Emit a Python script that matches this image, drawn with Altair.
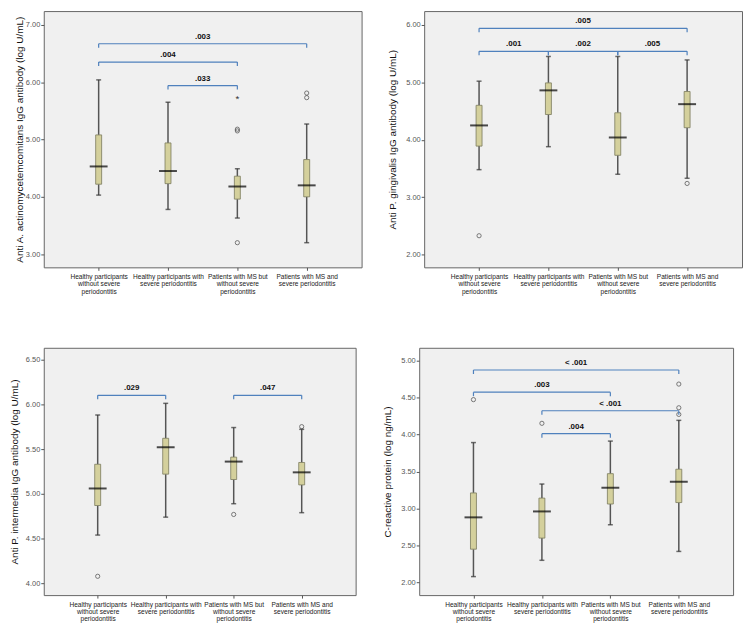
import altair as alt
import pandas as pd

FONT = "Liberation Sans"

CATEGORY_LABELS = [
    "Healthy participants|without severe|periodontitis",
    "Healthy participants with|severe periodontitis",
    "Patients with MS but|without severe|periodontitis",
    "Patients with MS and|severe periodontitis",
]
GROUP_POS = [0, 1, 2, 3]

# ---- Panel A: A. actinomycetemcomitans ----
A_LOW = [4.03, 3.78, 3.63, 3.20]
A_Q1 = [4.22, 4.23, 3.96, 4.00]
A_MED = [4.53, 4.45, 4.18, 4.20]
A_Q3 = [5.08, 4.94, 4.36, 4.65]
A_HIGH = [6.04, 5.65, 4.49, 5.27]
A_OUT_GROUP = [2, 2, 2, 3, 3]
A_OUT_VALUE = [3.20, 5.15, 5.18, 5.73, 5.81]
A_EXT_GROUP = [2]
A_EXT_VALUE = [5.75]
A_BR_FROM = [0, 0, 1]
A_BR_TO = [3, 2, 2]
A_BR_Y = [6.67, 6.35, 5.94]
A_BR_TEXT = [".003", ".004", ".033"]

# ---- Panel B: P. gingivalis ----
B_LOW = [3.48, 3.88, 3.40, 3.33]
B_Q1 = [3.89, 4.44, 3.73, 4.21]
B_MED = [4.25, 4.86, 4.04, 4.62]
B_Q3 = [4.60, 4.99, 4.47, 4.84]
B_HIGH = [5.02, 5.45, 5.45, 5.39]
B_OUT_GROUP = [0, 3]
B_OUT_VALUE = [2.33, 3.24]
B_BR_FROM = [0, 0, 1, 2]
B_BR_TO = [3, 1, 2, 3]
B_BR_Y = [5.94, 5.54, 5.54, 5.54]
B_BR_TEXT = [".005", ".001", ".002", ".005"]

# ---- Panel C: P. intermedia ----
C_LOW = [4.54, 4.74, 4.89, 4.79]
C_Q1 = [4.87, 5.22, 5.16, 5.10]
C_MED = [5.06, 5.52, 5.36, 5.24]
C_Q3 = [5.33, 5.62, 5.41, 5.35]
C_HIGH = [5.88, 6.01, 5.74, 5.72]
C_OUT_GROUP = [0, 2, 3]
C_OUT_VALUE = [4.08, 4.77, 5.75]
C_BR_FROM = [0, 2]
C_BR_TO = [1, 3]
C_BR_Y = [6.10, 6.10]
C_BR_TEXT = [".029", ".047"]

# ---- Panel D: C-reactive protein ----
D_LOW = [2.08, 2.30, 2.78, 2.42]
D_Q1 = [2.45, 2.60, 3.06, 3.08]
D_MED = [2.88, 2.96, 3.28, 3.36]
D_Q3 = [3.21, 3.14, 3.47, 3.53]
D_HIGH = [3.89, 3.33, 3.91, 4.19]
D_OUT_GROUP = [0, 1, 3, 3, 3]
D_OUT_VALUE = [4.47, 4.15, 4.68, 4.36, 4.27]
D_BR_FROM = [0, 0, 1, 1]
D_BR_TO = [3, 2, 3, 2]
D_BR_Y = [4.87, 4.57, 4.32, 4.01]
D_BR_TEXT = ["< .001", ".003", "< .001", ".004"]

X_DOMAIN = [-0.72, 3.72]
LABEL_EXPR = "split([" + ",".join("'" + s + "'" for s in CATEGORY_LABELS) + "][datum.value], '|')"


def make_panel(title, low, q1, med, q3, high, out_g, out_v, ext_g, ext_v,
               br_from, br_to, br_y, br_text, ydom, yticks, width, height, title_pad):
    boxes = pd.DataFrame({"pos": GROUP_POS, "low": low, "q1": q1, "med": med,
                          "q3": q3, "high": high})
    outs = pd.DataFrame({"pos": out_g, "val": out_v})
    brs = pd.DataFrame({"a": br_from, "b": br_to, "yb": br_y, "txt": br_text})

    xscale = alt.Scale(domain=X_DOMAIN, nice=False, zero=False)
    yscale = alt.Scale(domain=ydom, nice=False, zero=False)
    xaxis = alt.Axis(values=GROUP_POS, labelExpr=LABEL_EXPR, grid=False, domain=False,
                     tickSize=3, tickColor="#555555", labelFontSize=6.6, labelLineHeight=7.5,
                     labelColor="#222222", labelPadding=3, labelFont=FONT)
    yaxis = alt.Axis(values=yticks, format=".2f", grid=False, domain=False,
                     tickSize=3, tickColor="#555555", labelFontSize=7.5,
                     labelColor="#555555", labelPadding=1, labelFont=FONT,
                     titleFont=FONT, titleFontSize=10, titleFontWeight="normal",
                     titleColor="#111111", titlePadding=title_pad)

    def X(field):
        return alt.X(field, type="quantitative", scale=xscale, axis=xaxis, title=None)

    def Y(field):
        return alt.Y(field, type="quantitative", scale=yscale, axis=yaxis, title=title)

    whisk_lo = alt.Chart(boxes).mark_rule(color="#555555", strokeWidth=1.5).encode(
        x=X("pos"), y=Y("low"), y2="q1")
    whisk_hi = alt.Chart(boxes).mark_rule(color="#555555", strokeWidth=1.5).encode(
        x=X("pos"), y=Y("q3"), y2="high")
    cap_lo = alt.Chart(boxes).mark_tick(orient="horizontal", size=5, thickness=1.5,
                                        color="#333333").encode(x=X("pos"), y=Y("low"))
    cap_hi = alt.Chart(boxes).mark_tick(orient="horizontal", size=5, thickness=1.5,
                                        color="#333333").encode(x=X("pos"), y=Y("high"))
    box = alt.Chart(boxes).mark_bar(size=6, color="#d4d09c", stroke="#7a7a5c",
                                    strokeWidth=0.8).encode(x=X("pos"), y=Y("q1"), y2="q3")
    median = alt.Chart(boxes).mark_tick(orient="horizontal", size=18, thickness=2,
                                        color="#000000").encode(x=X("pos"), y=Y("med"))
    outliers = alt.Chart(outs).mark_point(shape="circle", filled=False, size=18,
                                          color="#333333", strokeWidth=0.9).encode(
        x=X("pos"), y=Y("val"))
    br_line = alt.Chart(brs).mark_rule(color="#4f81bd", strokeWidth=1.2).encode(
        x=X("a"), x2="b", y=Y("yb"))
    br_tick_a = alt.Chart(brs).mark_rule(color="#4f81bd", strokeWidth=1.2, y2Offset=4).encode(
        x=X("a"), y=Y("yb"), y2="yb")
    br_tick_b = alt.Chart(brs).mark_rule(color="#4f81bd", strokeWidth=1.2, y2Offset=4).encode(
        x=X("b"), y=Y("yb"), y2="yb")
    br_text = alt.Chart(brs).transform_calculate(mid="(datum.a + datum.b) / 2").mark_text(
        dy=-7, fontWeight="bold", fontSize=8, font=FONT, color="#111111").encode(
        x=X("mid"), y=Y("yb"), text="txt")

    layers = [whisk_lo, whisk_hi, cap_lo, cap_hi, box, median, outliers,
              br_line, br_tick_a, br_tick_b, br_text]
    if ext_g:
        ext = pd.DataFrame({"pos": ext_g, "val": ext_v})
        layers.append(alt.Chart(ext).mark_text(text="*", fontSize=10, dy=3,
                                               color="#333333").encode(
            x=X("pos"), y=Y("val")))
    return alt.layer(*layers).properties(width=width, height=height)


pA = make_panel("Anti A. actinomycetemcomitans IgG antibody (log U/mL)",
                A_LOW, A_Q1, A_MED, A_Q3, A_HIGH, A_OUT_GROUP, A_OUT_VALUE,
                A_EXT_GROUP, A_EXT_VALUE, A_BR_FROM, A_BR_TO, A_BR_Y, A_BR_TEXT,
                [2.77, 7.24], [3, 4, 5, 6, 7], 320, 258, 1)
pB = make_panel("Anti P. gingivalis IgG antibody (log U/mL)",
                B_LOW, B_Q1, B_MED, B_Q3, B_HIGH, B_OUT_GROUP, B_OUT_VALUE,
                [], [], B_BR_FROM, B_BR_TO, B_BR_Y, B_BR_TEXT,
                [1.78, 6.24], [2, 3, 4, 5, 6], 320, 258, 8)
pC = make_panel("Anti P. intermedia IgG antibody (log U/mL)",
                C_LOW, C_Q1, C_MED, C_Q3, C_HIGH, C_OUT_GROUP, C_OUT_VALUE,
                [], [], C_BR_FROM, C_BR_TO, C_BR_Y, C_BR_TEXT,
                [3.87, 6.63], [4.0, 4.5, 5.0, 5.5, 6.0, 6.5], 314, 249, 6)
pD = make_panel("C-reactive protein  (log ng/mL)",
                D_LOW, D_Q1, D_MED, D_Q3, D_HIGH, D_OUT_GROUP, D_OUT_VALUE,
                [], [], D_BR_FROM, D_BR_TO, D_BR_Y, D_BR_TEXT,
                [1.83, 5.17], [2.0, 2.5, 3.0, 3.5, 4.0, 4.5, 5.0], 316, 249, 8)

row1 = alt.HConcatChart(hconcat=[pA, pB], spacing=63, bounds="flush")
row2 = alt.HConcatChart(hconcat=[pC, pD], spacing=64, bounds="flush")

chart = alt.VConcatChart(vconcat=[row1, row2], spacing=51).properties(
    padding={"left": 0, "top": 0, "right": 0, "bottom": 0},
    background="white"
).configure_view(fill="#f0f0f0", stroke="#666666", strokeWidth=1)

chart.save("out.html", embed_options={"renderer": "svg", "actions": False})
